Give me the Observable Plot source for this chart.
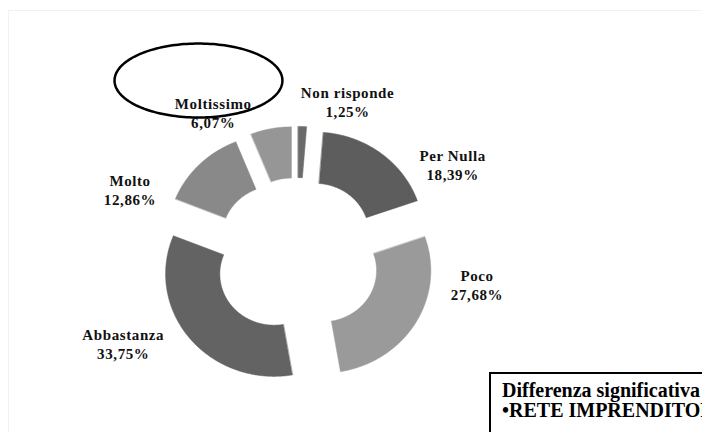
<!DOCTYPE html>
<html>
<head>
<meta charset="utf-8">
<script src="https://cdn.jsdelivr.net/npm/d3@7"></script>
<script src="https://cdn.jsdelivr.net/npm/@observablehq/plot@0.6"></script>
<style>
  html, body { margin: 0; padding: 0; background: #fff; overflow: hidden; }
  #wrap { position: relative; width: 702px; height: 432px; overflow: hidden; background: #fff; }
  #frame { position: absolute; left: 8px; top: 10px; width: 800px; height: 600px; border: 1px solid #f1f1f1; }
  #chart { position: absolute; left: 0; top: 0; }
  #note { position: absolute; left: 489px; top: 372px; width: 400px; height: 120px;
          border: 2px solid #000; background: #fff; box-sizing: border-box;
          padding: 6px 0 0 11px; font-family: "Liberation Serif", "Times New Roman", serif;
          font-weight: bold; font-size: 20px; line-height: 20px; white-space: nowrap; color: #000; }
  #note div { height: 20px; }
</style>
</head>
<body>
<div id="wrap">
  <div id="frame"></div>
  <div id="chart"></div>
  <div id="note"><div>Differenza significativa per:</div><div>•RETE IMPRENDITORIALE</div></div>
</div>
<script>
// ---- data ----
const categories = ["Non risponde", "Per Nulla", "Poco", "Abbastanza", "Molto", "Moltissimo"];
const percentages = [1.25, 18.39, 27.68, 33.75, 12.86, 6.07];
const valueLabels = ["1,25%", "18,39%", "27,68%", "33,75%", "12,86%", "6,07%"];

// ---- style / layout ----
const fillColors = ["#6b6b6b", "#5d5d5d", "#9a9a9a", "#636363", "#898989", "#969696"];
const innerRatio = 0.5;
const explode = 0.27;
const labelLayout = {
  "Non risponde": {shift: 14.9, radius: 1.58},
  "Per Nulla": {shift: 20.4, radius: 1.69},
  "Poco": {shift: -21.2, radius: 1.68},
  "Abbastanza": {shift: 11.0, radius: 1.81},
  "Molto": {shift: -22.0, radius: 1.67},
  "Moltissimo": {shift: -17.9, radius: 1.60}
};
const highlight = {cx: -0.907, cy: 1.717, rx: 0.773, ry: 0.361};

const rad = Math.PI / 180;
const total = d3.sum(percentages);
let acc = 0;
const slices = categories.map((c, i) => {
  const a0 = acc / total * 360;
  acc += percentages[i];
  const a1 = acc / total * 360;
  return {cat: c, a0, a1, mid: (a0 + a1) / 2, i};
});

function slicePoints(s) {
  const ox = explode * Math.sin(s.mid * rad), oy = explode * Math.cos(s.mid * rad);
  const n = Math.max(2, Math.ceil((s.a1 - s.a0) / 0.5));
  const pts = [];
  for (let k = 0; k <= n; k++) {
    const a = (s.a0 + (s.a1 - s.a0) * k / n) * rad;
    pts.push({x: Math.sin(a) + ox, y: Math.cos(a) + oy});
  }
  for (let k = n; k >= 0; k--) {
    const a = (s.a0 + (s.a1 - s.a0) * k / n) * rad;
    pts.push({x: innerRatio * Math.sin(a) + ox, y: innerRatio * Math.cos(a) + oy});
  }
  return pts;
}

const labels = slices.map(s => {
  const L = labelLayout[s.cat];
  const a = (s.mid + L.shift) * rad;
  return {x: L.radius * Math.sin(a), y: L.radius * Math.cos(a), text: s.cat + "\n" + valueLabels[s.i]};
});

const ellipsePts = d3.range(0, 360, 2).map(t => ({
  x: highlight.cx + highlight.rx * Math.cos(t * rad),
  y: highlight.cy + highlight.ry * Math.sin(t * rad)
}));

const marks = [
  ...slices.map(s => Plot.line(slicePoints(s), {
    x: "x", y: "y", fill: fillColors[s.i], stroke: fillColors[s.i], strokeWidth: 0.5, curve: "linear-closed"
  })),
  Plot.text(labels, {
    x: "x", y: "y", text: "text", fill: "#111", fontSize: 15, fontWeight: "bold",
    fontFamily: "'Liberation Serif', 'Times New Roman', serif", lineHeight: 1.25
  }),
  Plot.line(ellipsePts, {x: "x", y: "y", stroke: "#000", strokeWidth: 2.5, fill: "none", curve: "linear-closed"})
];

const chart = Plot.plot({
  width: 702,
  height: 432,
  margin: 0,
  x: {domain: [-2.730, 3.734], axis: null},
  y: {domain: [-1.717, 2.498], axis: null},
  style: {background: "transparent", letterSpacing: "0.6px", overflow: "visible"},
  marks
});
document.getElementById("chart").appendChild(chart);
</script>
</body>
</html>
